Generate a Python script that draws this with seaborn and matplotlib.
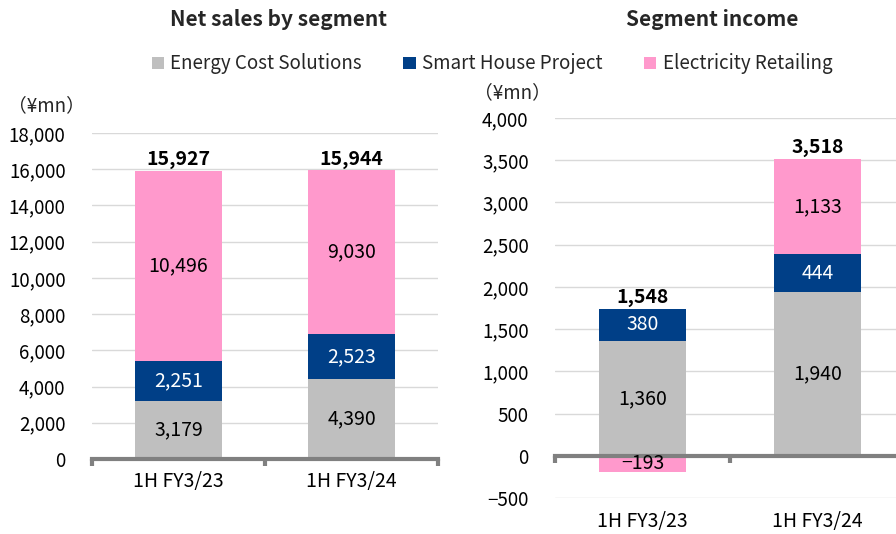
import matplotlib
matplotlib.use("Agg")
import matplotlib.pyplot as plt
from matplotlib.patches import Patch
import seaborn as sns
import pandas as pd
import numpy as np

# ---- data ----
categories = ["1H FY3/23", "1H FY3/24"]
series_names = ["Energy Cost Solutions", "Smart House Project", "Electricity Retailing"]
sales_ecs = [3179, 4390]
sales_shp = [2251, 2523]
sales_er = [10496, 9030]
sales_total = [15927, 15944]
income_ecs = [1360, 1940]
income_shp = [380, 444]
income_er = [-193, 1133]
income_total = [1548, 3518]
sales_ticks = [0, 2000, 4000, 6000, 8000, 10000, 12000, 14000, 16000, 18000]
income_ticks = [-500, 0, 500, 1000, 1500, 2000, 2500, 3000, 3500, 4000]

# ---- style ----
sns.set_theme(style="white")
plt.rcParams['font.family'] = ['Noto Sans CJK JP', 'DejaVu Sans']
plt.rcParams['axes.unicode_minus'] = False

C_ECS = "#BFBFBF"
C_SHP = "#003F87"
C_ER = "#FF99CC"
GRID = "#D9D9D9"
AXIS = "#808080"

fig = plt.figure(figsize=(8.96, 5.34), dpi=100)
ax1 = fig.add_axes([92/896, (534-459)/534, 346/896, (459-133)/534])
ax2 = fig.add_axes([555/896, (534-498)/534, 350/896, (498-118)/534])


def stacked(ax, ecs, shp, er, total, ylim, ticks, label_fs):
    ecs = np.array(ecs, float)
    shp = np.array(shp, float)
    er = np.array(er, float)
    er_bottom = np.where(er < 0, 0, ecs + shp)
    layers = [
        (ecs, np.zeros_like(ecs), C_ECS, "black"),
        (shp, ecs, C_SHP, "white"),
        (er, er_bottom, C_ER, "black"),
    ]
    for vals, bottoms, col, tcol in layers:
        df = pd.DataFrame({"cat": categories, "val": vals})
        sns.barplot(data=df, x="cat", y="val", order=categories, color=col,
                    saturation=1, width=0.5, bottom=bottoms, ax=ax,
                    errorbar=None, zorder=3, linewidth=0)
        for i, (v, b) in enumerate(zip(vals, bottoms)):
            txt = f"{int(v):,}".replace("-", "\u2212")
            ax.text(i, b + v / 2, txt, ha="center", va="center",
                    color=tcol, fontsize=label_fs, zorder=5)
    tops = ecs + shp + np.clip(er, 0, None)
    for i, (t, tot) in enumerate(zip(tops, total)):
        ax.annotate(f"{tot:,}", (i, t), xytext=(0, 1), textcoords="offset points",
                    ha="center", va="bottom", fontsize=14, fontweight="bold",
                    color="black", annotation_clip=False)
    ax.set_ylim(*ylim)
    ax.set_xlim(-0.5, 1.5)
    ax.set_yticks(ticks)
    ax.set_yticklabels([f"{t:,}".replace("-", "\u2212") for t in ticks])
    ax.yaxis.grid(True, color=GRID, linewidth=1, zorder=0)
    ax.set_axisbelow(True)
    for s in ["top", "right", "left"]:
        ax.spines[s].set_visible(False)
    ax.spines["bottom"].set_position(("data", 0))
    ax.spines["bottom"].set_color(AXIS)
    ax.spines["bottom"].set_linewidth(3)
    ax.spines["bottom"].set_zorder(4)
    ax.set_xticks([-0.5, 0.5, 1.5], minor=True)
    ax.tick_params(axis="x", which="minor", bottom=True, length=5, width=3,
                   color=AXIS, direction="out")
    ax.tick_params(axis="y", length=0, labelsize=13.5, pad=19, labelcolor="black")
    ax.set_xlabel("")
    ax.set_ylabel("")


stacked(ax1, sales_ecs, sales_shp, sales_er, sales_total, (0, 18000), sales_ticks, 14)
stacked(ax2, income_ecs, income_shp, income_er, income_total, (-500, 4000), income_ticks, 14)

ax1.tick_params(axis="x", which="major", length=0, labelsize=14, pad=9, labelcolor="black")
ax2.tick_params(axis="x", which="major", length=0, labelsize=14, pad=40, labelcolor="black")
ax2.set_xticks(range(len(categories)))
ax2.set_xticklabels(categories)

# units
fig.text(8/896, 1 - 106/534, "（¥mn）", fontsize=13.5, ha="left", va="center")
fig.text(474/896, 1 - 93/534, "（¥mn）", fontsize=13.5, ha="left", va="center")

# titles
fig.text(278/896, 1 - 19/534, "Net sales by segment", fontsize=15, fontweight="bold",
         ha="center", va="center")
fig.text(712/896, 1 - 19/534, "Segment income", fontsize=15, fontweight="bold",
         ha="center", va="center")

# legend
handles = [Patch(facecolor=c, edgecolor="none") for c in (C_ECS, C_SHP, C_ER)]
fig.legend(handles, series_names, loc="center", bbox_to_anchor=(492/896, 1 - 64/534),
           ncol=3, frameon=False, fontsize=13.5, handlelength=0.65, handleheight=0.65,
           handletextpad=0.35, columnspacing=2.2)

fig.savefig("out.png", dpi=100)
